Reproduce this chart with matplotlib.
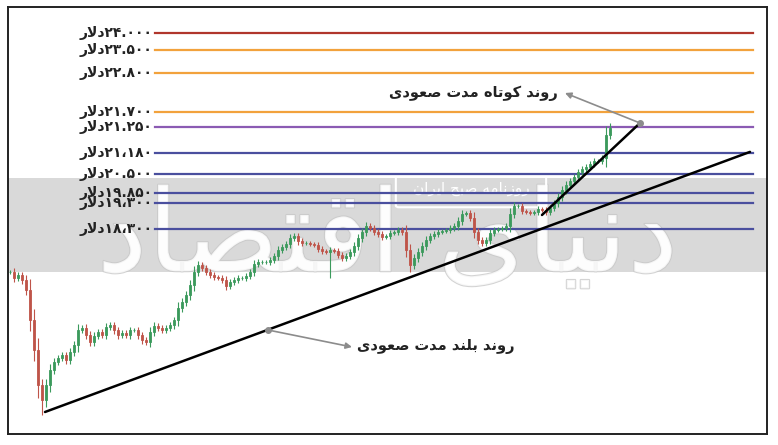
import numpy as np
import matplotlib
matplotlib.use('Agg')
import matplotlib.pyplot as plt
import matplotlib.patheffects as pe
from matplotlib.patches import FancyBboxPatch, Rectangle

# horizontal levels (dollar)
levels = [24000, 23500, 22800, 21700, 21250, 21180, 20500, 19850, 19300, 18300]
level_labels = ['۲۴.۰۰۰', '۲۳.۵۰۰', '۲۲.۸۰۰', '۲۱.۷۰۰', '۲۱.۲۵۰',
                '۲۱،۱۸۰', '۲۰.۵۰۰', '۱۹.۸۵۰', '۱۹،۳۰۰', '۱۸،۳۰۰']
level_colors = ['#b0362c', '#f2a23c', '#f2a23c', '#f2a23c', '#8b5bb3',
                '#4a4f9e', '#4a4f9e', '#4a4f9e', '#4a4f9e', '#4a4f9e']

# daily closes
closes = [16580, 16340, 16460, 16260, 15860, 14660, 13460, 12060, 11460, 12060,
          12660, 12980, 13140, 13260, 13060, 13380, 13660, 14260, 14340, 14060,
          13780, 14020, 14180, 14060, 14380, 14460, 14260, 14060, 14140, 14060,
          14260, 14260, 14060, 13860, 13780, 14180, 14420, 14340, 14260, 14340,
          14460, 14660, 15140, 15380, 15660, 16060, 16580, 16860, 16740, 16580,
          16460, 16380, 16340, 16260, 16020, 16180, 16260, 16340, 16340, 16420,
          16580, 16900, 16980, 16980, 16980, 17060, 17220, 17460, 17580, 17700,
          17940, 18020, 17820, 17740, 17740, 17700, 17660, 17500, 17420, 17380,
          17460, 17420, 17260, 17140, 17220, 17380, 17620, 17940, 18180, 18415,
          18340, 18180, 18100, 17980, 18020, 18140, 18180, 18260, 18180, 17460,
          16860, 17140, 17380, 17620, 17860, 18020, 18100, 18180, 18220, 18260,
          18340, 18415, 18610, 18880, 18915, 18725, 18180, 17860, 17740, 17860,
          18140, 18260, 18300, 18340, 18415, 18880, 19185, 19185, 18995, 18955,
          18915, 18955, 19070, 19030, 18955, 19110, 19300, 19630, 19950, 20125,
          20260, 20400, 20565, 20660, 20725, 20825, 20920, 20920, 21020, 21229,
          21248]
wick_lows = {8: 10860, 80: 16340, 100: 16580}
wick_highs = {150: 21370}

# trend lines (candle index, price)
long_trend = [(8.75, 10980), (185, 21183)]
short_trend = [(133, 18839), (157.5, 21370)]

short_label = 'روند کوتاه مدت صعودی'
long_label = 'روند بلند مدت صعودی'
wm_title = 'دنیای اقتصاد'
wm_sub = 'روزنامه صبح ایران'

# ---- minimal arabic shaping (matplotlib does no joining / bidi) ----
FORMS = {
    'ا': ('\uFE8D', '\uFE8E', None, None),
    'ب': ('\uFE8F', '\uFE90', '\uFE91', '\uFE92'),
    'ت': ('\uFE95', '\uFE96', '\uFE97', '\uFE98'),
    'ح': ('\uFEA1', '\uFEA2', '\uFEA3', '\uFEA4'),
    'د': ('\uFEA9', '\uFEAA', None, None),
    'ر': ('\uFEAD', '\uFEAE', None, None),
    'ز': ('\uFEAF', '\uFEB0', None, None),
    'ص': ('\uFEB9', '\uFEBA', '\uFEBB', '\uFEBC'),
    'ع': ('\uFEC9', '\uFECA', '\uFECB', '\uFECC'),
    'ق': ('\uFED5', '\uFED6', '\uFED7', '\uFED8'),
    'ک': ('\uFED9', '\uFEDA', '\uFEDB', '\uFEDC'),
    'ل': ('\uFEDD', '\uFEDE', '\uFEDF', '\uFEE0'),
    'م': ('\uFEE1', '\uFEE2', '\uFEE3', '\uFEE4'),
    'ن': ('\uFEE5', '\uFEE6', '\uFEE7', '\uFEE8'),
    'ه': ('\uFEE9', '\uFEEA', '\uFEEB', '\uFEEC'),
    'و': ('\uFEED', '\uFEEE', None, None),
    'ی': ('\uFEEF', '\uFEF0', '\uFEF3', '\uFEF4'),
}


def shape(text):
    out = []
    i = 0
    n = len(text)
    while i < n:
        ch = text[i]
        if ch not in FORMS:
            out.append(ch)
            i += 1
            continue
        prev = text[i - 1] if i > 0 else ''
        join_prev = prev in FORMS and FORMS[prev][2] is not None
        if ch == 'ل' and i + 1 < n and text[i + 1] == 'ا':
            out.append('\uFEFC' if join_prev else '\uFEFB')
            i += 2
            continue
        nxt = text[i + 1] if i + 1 < n else ''
        join_next = nxt in FORMS and FORMS[ch][2] is not None
        iso, fin, ini, med = FORMS[ch]
        if join_prev and join_next:
            out.append(med)
        elif join_prev:
            out.append(fin)
        elif join_next:
            out.append(ini)
        else:
            out.append(iso)
        i += 1
    return ''.join(out)[::-1]


# ---- vertical scale of the picture (not linear between the levels) ----
knot_price = np.array([0, 18300, 19300, 19850, 20500, 21180, 21250, 21700, 22800, 23500, 24000, 40000])
knot_h = np.array([-252.5, 205, 231, 241, 260, 281, 307, 322, 361, 384, 401, 945])


def fwd(p):
    return np.interp(p, knot_price, knot_h)


def inv(h):
    return np.interp(h, knot_h, knot_price)


plt.rcParams['font.family'] = ['DejaVu Sans']

fig = plt.figure(figsize=(7.78, 4.45), dpi=100)
ax = fig.add_axes([8 / 778, 11 / 445, 759 / 778, 427 / 445])
ax.set_yscale('function', functions=(fwd, inv))
ax.set_xlim(-0.5, 189.25)
ax.set_ylim(10100, 24765)
ax.set_xticks([])
ax.set_yticks([])
ax.minorticks_off()
for s in ax.spines.values():
    s.set_linewidth(1.4)
    s.set_color('#222222')

# watermark band
ax.add_patch(Rectangle((0, 0.379), 1, 0.221, transform=ax.transAxes,
                       facecolor='#d9d9d9', edgecolor='none', zorder=0))
ax.text(0.5, 0.455, shape(wm_title), transform=ax.transAxes, ha='center', va='center',
        fontsize=82, color='white', alpha=0.8, zorder=0.5,
        path_effects=[pe.withStroke(linewidth=1.5, foreground='#c8c8c8')])
ax.add_patch(FancyBboxPatch((0.515, 0.535), 0.19, 0.065, transform=ax.transAxes,
                            boxstyle='round,pad=0.004', facecolor='none',
                            edgecolor='white', linewidth=1.5, zorder=0.6))
ax.text(0.61, 0.575, shape(wm_sub), transform=ax.transAxes, ha='center', va='center',
        fontsize=11, color='white', zorder=0.6)

# levels
for lv, lab, col in zip(levels, level_labels, level_colors):
    ax.axhline(lv, xmin=0.194, xmax=0.982, color=col, linewidth=1.6, zorder=2)
    ax.text(0.19, lv, shape('دلار') + lab, transform=ax.get_yaxis_transform(),
            ha='right', va='center', fontsize=10, fontweight='bold', color='#222222')

# candles
c = np.array(closes, dtype=float)
o = np.concatenate([[c[0]], c[:-1]])
idx = np.arange(len(c))
top = np.maximum(o, c)
bot = np.minimum(o, c)
body_px = fwd(top) - fwd(bot)
hi = inv(fwd(top) + 2 + 0.3 * body_px)
lo = inv(fwd(bot) - 2 - 0.3 * body_px)
for k, v in wick_lows.items():
    lo[k] = v
for k, v in wick_highs.items():
    hi[k] = v
cols = np.where(c >= o, '#3b9a5c', '#bf5449')
ax.vlines(idx, lo, hi, colors=cols, linewidth=0.8, zorder=3)
ax.bar(idx, top - bot, bottom=bot, width=0.7, color=cols, edgecolor=cols,
       linewidth=0.6, zorder=4)

# trend lines
for tr in (long_trend, short_trend):
    ax.plot([tr[0][0], tr[1][0]], [tr[0][1], tr[1][1]], color='black',
            linewidth=1.8, zorder=5, solid_capstyle='round')

# annotations
ax.plot([short_trend[1][0], 64.5], [short_trend[1][1], 14260], 'o', color='#8c8c8c',
        markersize=4, zorder=6)
ax.annotate('', xy=(138.75, 22236), xytext=short_trend[1],
            arrowprops=dict(arrowstyle='-|>', color='#8c8c8c', lw=1.2,
                            mutation_scale=9, shrinkA=0, shrinkB=0), zorder=6)
ax.text(137, 22236, shape(short_label), ha='right', va='center', fontsize=10.5,
        fontweight='bold', color='#222222')
ax.annotate('', xy=(85.5, 13580), xytext=(64.5, 14260),
            arrowprops=dict(arrowstyle='-|>', color='#8c8c8c', lw=1.2,
                            mutation_scale=9, shrinkA=0, shrinkB=0), zorder=6)
ax.text(86.75, 13620, shape(long_label), ha='left', va='center', fontsize=10.5,
        fontweight='bold', color='#222222')

fig.savefig('out.png', dpi=100, facecolor='white')
